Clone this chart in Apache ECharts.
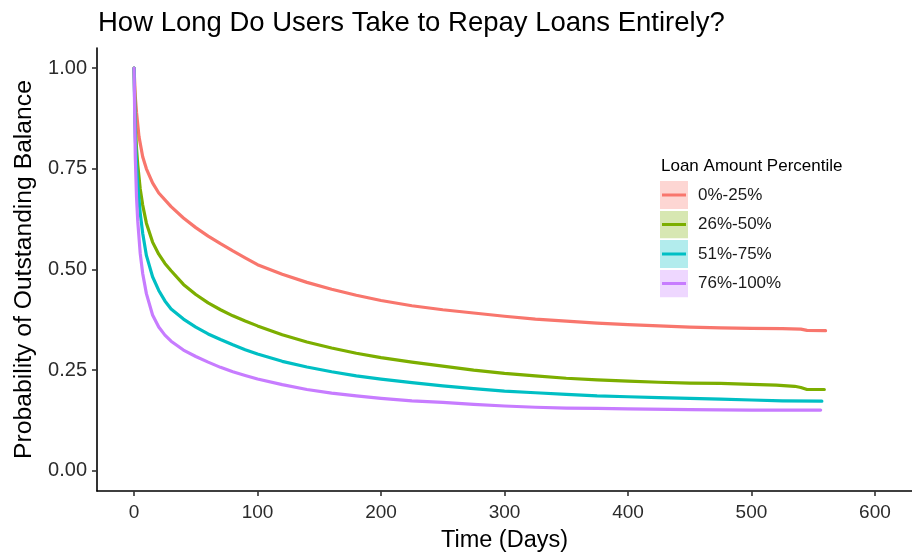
<!DOCTYPE html>
<html>
<head>
<meta charset="utf-8">
<script src="https://cdn.jsdelivr.net/npm/echarts@6/dist/echarts.min.js"></script>
<style>
  html, body { margin: 0; padding: 0; background: #fff; }
  #chart { width: 912px; height: 558px; }
</style>
</head>
<body>
<div id="chart"></div>
<script>
// Survival-style curves: share of loans still carrying a balance over time
const seriesNames = ['0%-25%', '26%-50%', '51%-75%', '76%-100%'];
const seriesColors = ['#F8766D', '#7CAE00', '#00BFC4', '#C77CFF'];

const daysQ1 = [0, 1, 2, 4, 7, 10, 15, 20, 30, 40, 50, 60, 70, 80, 90, 100, 120, 140, 160, 180, 200, 225, 250, 275, 300, 325, 350, 375, 400, 425, 450, 475, 500, 525, 540, 545, 560];
const valsQ1 = [1.0, 0.93, 0.89, 0.83, 0.78, 0.75, 0.715, 0.69, 0.656, 0.628, 0.604, 0.583, 0.564, 0.546, 0.529, 0.512, 0.488, 0.468, 0.451, 0.436, 0.423, 0.41, 0.40, 0.392, 0.384, 0.377, 0.372, 0.367, 0.363, 0.36, 0.357, 0.355, 0.354, 0.353, 0.352, 0.349, 0.348];

const daysQ2 = [0, 1, 2, 3, 5, 7, 10, 15, 20, 25, 30, 40, 50, 60, 70, 80, 90, 100, 120, 140, 160, 180, 200, 225, 250, 275, 300, 325, 350, 375, 400, 425, 450, 475, 500, 520, 535, 540, 545, 559];
const valsQ2 = [1.0, 0.86, 0.8, 0.76, 0.7, 0.66, 0.615, 0.568, 0.538, 0.515, 0.497, 0.463, 0.438, 0.417, 0.4, 0.385, 0.372, 0.36, 0.338, 0.32, 0.305, 0.292, 0.281, 0.27, 0.26, 0.25, 0.242, 0.236, 0.23, 0.226, 0.223, 0.22, 0.218, 0.217, 0.215, 0.213, 0.21, 0.207, 0.202, 0.202];

const daysQ3 = [0, 1, 2, 3, 5, 7, 10, 15, 20, 25, 30, 40, 50, 60, 70, 80, 90, 100, 120, 140, 160, 180, 200, 225, 250, 275, 300, 325, 350, 375, 400, 425, 450, 475, 500, 525, 557];
const valsQ3 = [1.0, 0.83, 0.76, 0.71, 0.64, 0.59, 0.535, 0.482, 0.448, 0.422, 0.402, 0.377, 0.357, 0.34, 0.326, 0.313, 0.301, 0.29, 0.272, 0.258, 0.246, 0.236, 0.228, 0.219, 0.211, 0.204, 0.198, 0.194, 0.19, 0.186, 0.184, 0.182, 0.18, 0.178, 0.176, 0.174, 0.173];

const daysQ4 = [0, 1, 2, 3, 5, 7, 10, 15, 20, 25, 30, 40, 50, 60, 70, 80, 90, 100, 120, 140, 160, 180, 200, 225, 250, 275, 300, 325, 350, 375, 400, 450, 500, 556];
const valsQ4 = [1.0, 0.78, 0.68, 0.62, 0.54, 0.49, 0.44, 0.387, 0.357, 0.337, 0.322, 0.3, 0.284, 0.27, 0.257, 0.246, 0.237, 0.228, 0.214, 0.202, 0.193, 0.186, 0.18, 0.174, 0.17, 0.165, 0.161, 0.158, 0.156, 0.155, 0.154, 0.152, 0.151, 0.151];

const xTicks = [0, 100, 200, 300, 400, 500, 600];
const yTicks = [0, 0.25, 0.5, 0.75, 1.0];

const allDays = [daysQ1, daysQ2, daysQ3, daysQ4];
const allVals = [valsQ1, valsQ2, valsQ3, valsQ4];

const FONT = 'Liberation Sans, Arial, Helvetica, sans-serif';

// Legend key: pale band swatch with the line drawn across it
function keyIcon(color) {
  const svg = '<svg xmlns="http://www.w3.org/2000/svg" width="28" height="28" viewBox="0 0 28 28">' +
    '<rect x="0" y="0" width="28" height="28" fill="' + color + '" fill-opacity="0.3"/>' +
    '<line x1="2" y1="14" x2="26" y2="14" stroke="' + color + '" stroke-width="3"/></svg>';
  return 'image://data:image/svg+xml;charset=utf-8,' + encodeURIComponent(svg);
}

const chart = echarts.init(document.getElementById('chart'), null, { renderer: 'canvas' });

const series = seriesNames.map((name, i) => ({
  name: name,
  type: 'line',
  data: allDays[i].map((d, j) => [d, allVals[i][j]]),
  showSymbol: false,
  smooth: false,
  lineStyle: { color: seriesColors[i], width: 3.2, join: 'round', cap: 'round' },
  itemStyle: { color: seriesColors[i] },
  z: 2 + i,
  animation: false
}));

chart.setOption({
  animation: false,
  backgroundColor: '#ffffff',
  textStyle: { fontFamily: FONT },
  title: [
    {
      text: 'How Long Do Users Take to Repay Loans Entirely?',
      left: 93,
      top: 4,
      textStyle: { fontFamily: FONT, fontSize: 27.5, fontWeight: 'normal', color: '#000' }
    },
    {
      text: 'Loan Amount Percentile',
      left: 656,
      top: 153,
      textStyle: { fontFamily: FONT, fontSize: 17, fontWeight: 'normal', color: '#000' }
    }
  ],
  legend: {
    orient: 'vertical',
    left: 660,
    top: 181,
    itemWidth: 28,
    itemHeight: 28,
    itemGap: 1.5,
    padding: 0,
    textStyle: { fontFamily: FONT, fontSize: 17, color: '#1a1a1a', padding: [6, 0, 0, 5] },
    data: seriesNames.map((n, i) => ({ name: n, icon: keyIcon(seriesColors[i]) })),
    selectedMode: false
  },
  grid: { left: 97, top: 48, width: 819, height: 450, containLabel: false },
  xAxis: {
    type: 'value',
    min: -30,
    max: 630,
    name: 'Time (Days)',
    nameLocation: 'middle',
    nameGap: 38,
    nameTextStyle: { fontFamily: FONT, fontSize: 23.5, color: '#000' },
    splitLine: { show: false },
    axisLine: { show: true, onZero: false, lineStyle: { color: '#000', width: 1.6 } },
    axisTick: { show: true, length: 5, lineStyle: { color: '#333', width: 1.6 }, customValues: xTicks },
    axisLabel: { fontFamily: FONT, fontSize: 19, color: '#2b2b2b', margin: 12, customValues: xTicks }
  },
  yAxis: {
    type: 'value',
    min: -0.05,
    max: 1.05,
    name: 'Probability of Outstanding Balance',
    nameLocation: 'middle',
    nameGap: 58,
    nameRotate: 90,
    nameTextStyle: { fontFamily: FONT, fontSize: 24.7, color: '#000' },
    splitLine: { show: false },
    axisLine: { show: true, onZero: false, lineStyle: { color: '#000', width: 1.6 } },
    axisTick: { show: true, length: 5, lineStyle: { color: '#333', width: 1.6 }, customValues: yTicks },
    axisLabel: {
      fontFamily: FONT, fontSize: 20, color: '#2b2b2b', margin: 10,
      customValues: yTicks,
      formatter: v => v.toFixed(2)
    }
  },
  series: series
});
</script>
</body>
</html>
